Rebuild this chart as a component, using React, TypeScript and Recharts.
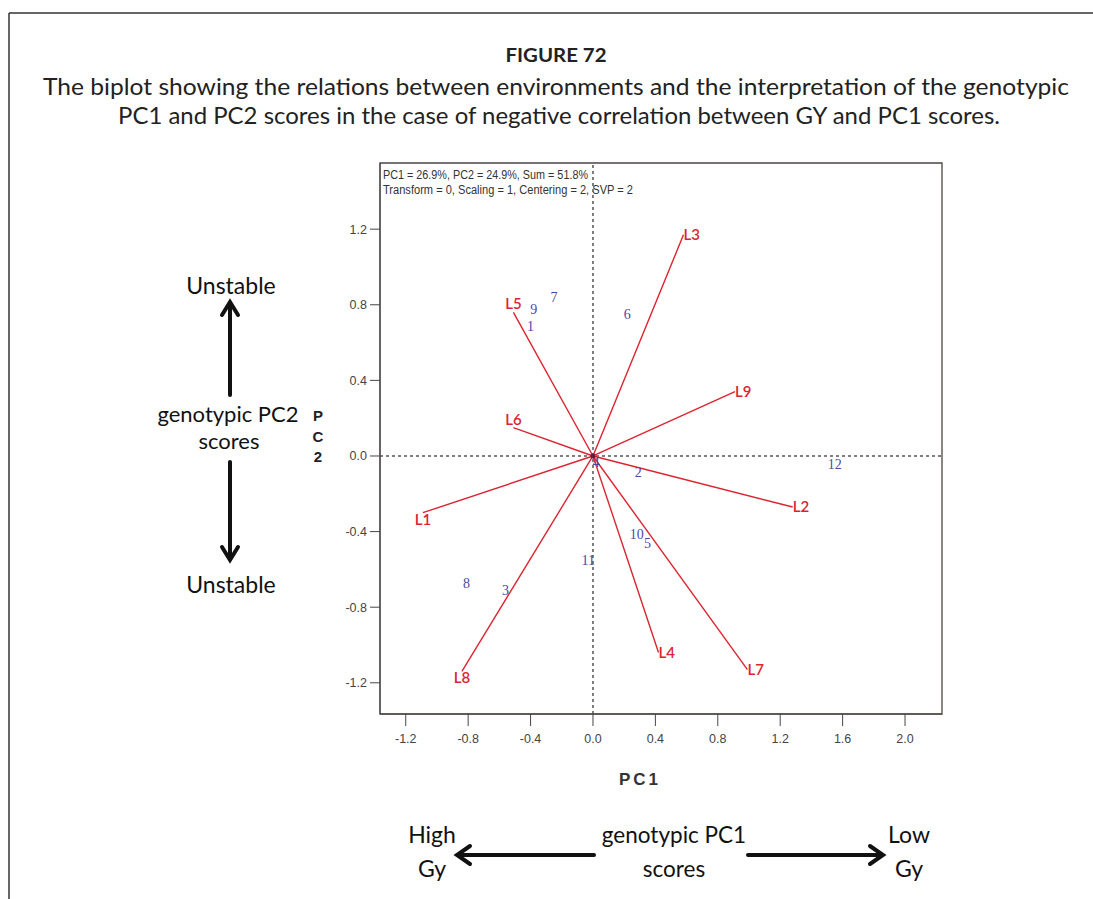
import React from 'react';
import {
  ScatterChart,
  Scatter,
  XAxis,
  YAxis,
  ReferenceLine,
  ReferenceArea,
  ReferenceDot,
} from 'recharts';

// Environment vectors (red)
const envNames = ['L1', 'L2', 'L3', 'L4', 'L5', 'L6', 'L7', 'L8', 'L9'];
const envPC1 = [-1.09, 1.28, 0.58, 0.42, -0.51, -0.51, 0.99, -0.84, 0.91];
const envPC2 = [-0.3, -0.27, 1.17, -1.04, 0.76, 0.15, -1.13, -1.14, 0.34];

// Genotype scores (blue)
const genoNames = ['1', '2', '3', '4', '5', '6', '7', '8', '9', '10', '11', '12'];
const genoPC1 = [-0.4, 0.29, -0.56, 0.02, 0.35, 0.22, -0.25, -0.81, -0.38, 0.28, -0.03, 1.55];
const genoPC2 = [0.69, -0.085, -0.71, -0.03, -0.46, 0.75, 0.84, -0.67, 0.78, -0.415, -0.55, -0.04];

const xTicks = [-1.2, -0.8, -0.4, 0.0, 0.4, 0.8, 1.2, 1.6, 2.0];
const yTicks = [-1.2, -0.8, -0.4, 0.0, 0.4, 0.8, 1.2];
const xDomain: [number, number] = [-1.365, 2.237];
const yDomain: [number, number] = [-1.365, 1.55];

const RED = '#dc2430';
const BLUE = '#4848a8';
const AXIS = '#4a4444';
const NARROW = '"Liberation Sans Narrow", "Liberation Sans", Arial, sans-serif';
const CAL = 'Lato, "Noto Sans", sans-serif';
const SERIF = '"Liberation Serif", "DejaVu Serif", serif';

const genoData = genoNames.map((name, i) => ({ x: genoPC1[i], y: genoPC2[i], name }));

const EnvLabel = (props: any) => {
  const { cx, cy, payload } = props;
  if (!payload || !payload.name) return <g />;
  const left = payload.x < 0;
  let anchor: 'start' | 'middle' = 'start';
  let dy = 5;
  if (left) {
    anchor = 'middle';
    dy = payload.y > 0 ? -3 : 12;
  }
  return (
    <text
      x={cx}
      y={cy + dy}
      textAnchor={anchor}
      fill={RED}
      fontSize={15}
      fontWeight={600}
      fontFamily={CAL}
    >
      {payload.name}
    </text>
  );
};

const GenoLabel = (props: any) => {
  const { cx, cy, payload } = props;
  return (
    <text
      x={cx}
      y={cy + 5}
      textAnchor="middle"
      fill={BLUE}
      fontSize={14}
      fontFamily={SERIF}
    >
      {payload.name}
    </text>
  );
};

function UpArrow({ x, y1, y2 }: { x: number; y1: number; y2: number }) {
  return (
    <g stroke="#111" strokeWidth={4} fill="none" strokeLinecap="round" strokeLinejoin="miter">
      <line x1={x} y1={y2} x2={x} y2={y1 + 2} />
      <polyline points={`${x - 8},${y1 + 13} ${x},${y1} ${x + 8},${y1 + 13}`} />
    </g>
  );
}
function DownArrow({ x, y1, y2 }: { x: number; y1: number; y2: number }) {
  return (
    <g stroke="#111" strokeWidth={4} fill="none" strokeLinecap="round">
      <line x1={x} y1={y1} x2={x} y2={y2 - 2} />
      <polyline points={`${x - 8},${y2 - 13} ${x},${y2} ${x + 8},${y2 - 13}`} />
    </g>
  );
}
function LeftArrow({ y, x1, x2 }: { y: number; x1: number; x2: number }) {
  return (
    <g stroke="#111" strokeWidth={4} fill="none" strokeLinecap="round">
      <line x1={x2} y1={y} x2={x1 + 2} y2={y} />
      <polyline points={`${x1 + 13},${y - 9} ${x1},${y} ${x1 + 13},${y + 9}`} />
    </g>
  );
}
function RightArrow({ y, x1, x2 }: { y: number; x1: number; x2: number }) {
  return (
    <g stroke="#111" strokeWidth={4} fill="none" strokeLinecap="round">
      <line x1={x1} y1={y} x2={x2 - 2} y2={y} />
      <polyline points={`${x2 - 13},${y - 9} ${x2},${y} ${x2 - 13},${y + 9}`} />
    </g>
  );
}

export default function App() {
  return (
    <div
      style={{
        position: 'absolute',
        left: 0,
        top: 0,
        width: 1093,
        height: 899,
        background: '#fff',
        overflow: 'hidden',
      }}
    >
      <svg width={1093} height={899} style={{ position: 'absolute', left: 0, top: 0 }}>
        {/* page border */}
        <line x1={9} y1={13} x2={1093} y2={13} stroke="#333" strokeWidth={1.5} />
        <line x1={9} y1={13} x2={9} y2={899} stroke="#333" strokeWidth={1.5} />

        {/* title */}
        <text x={556} y={62} textAnchor="middle" fontFamily={CAL} fontWeight={700} fontSize={19} fill="#222" textLength={101} lengthAdjust="spacingAndGlyphs">
          FIGURE 72
        </text>
        <text x={556} y={95} textAnchor="middle" fontFamily={CAL} fontSize={23} fill="#222" textLength={1026} lengthAdjust="spacingAndGlyphs">
          The biplot showing the relations between environments and the interpretation of the genotypic
        </text>
        <text x={559} y={124} textAnchor="middle" fontFamily={CAL} fontSize={23} fill="#222" textLength={882} lengthAdjust="spacingAndGlyphs">
          PC1 and PC2 scores in the case of negative correlation between GY and PC1 scores.
        </text>

        {/* left annotations */}
        <text x={231} y={294} textAnchor="middle" fontFamily={CAL} fontSize={23} fill="#111">
          Unstable
        </text>
        <UpArrow x={230} y1={302} y2={395} />
        <text x={228} y={422} textAnchor="middle" fontFamily={CAL} fontSize={22} fill="#111">
          genotypic PC2
        </text>
        <text x={229} y={449} textAnchor="middle" fontFamily={CAL} fontSize={22} fill="#111">
          scores
        </text>
        <DownArrow x={230} y1={462} y2={560} />
        <text x={231} y={593} textAnchor="middle" fontFamily={CAL} fontSize={23} fill="#111">
          Unstable
        </text>

        {/* y-axis title stacked */}
        <text x={318} y={421} textAnchor="middle" fontFamily="Arial, 'Liberation Sans', sans-serif" fontWeight={700} fontSize={15} fill="#222">
          P
        </text>
        <text x={318} y={442} textAnchor="middle" fontFamily="Arial, 'Liberation Sans', sans-serif" fontWeight={700} fontSize={15} fill="#222">
          C
        </text>
        <text x={318} y={462} textAnchor="middle" fontFamily="Arial, 'Liberation Sans', sans-serif" fontWeight={700} fontSize={15} fill="#222">
          2
        </text>

        {/* x-axis title */}
        <text x={640} y={785} textAnchor="middle" fontFamily="Arial, 'Liberation Sans', sans-serif" fontWeight={700} fontSize={17} letterSpacing={3} fill="#333">
          PC1
        </text>

        {/* bottom annotations */}
        <text x={432} y={843} textAnchor="middle" fontFamily={CAL} fontSize={23} fill="#111">
          High
        </text>
        <text x={432} y={877} textAnchor="middle" fontFamily={CAL} fontSize={23} fill="#111">
          Gy
        </text>
        <LeftArrow y={855} x1={457} x2={594} />
        <text x={674} y={843} textAnchor="middle" fontFamily={CAL} fontSize={22.5} fill="#111">
          genotypic PC1
        </text>
        <text x={674} y={877} textAnchor="middle" fontFamily={CAL} fontSize={22.5} fill="#111">
          scores
        </text>
        <RightArrow y={855} x1={748} x2={883} />
        <text x={909} y={843} textAnchor="middle" fontFamily={CAL} fontSize={23} fill="#111">
          Low
        </text>
        <text x={909} y={877} textAnchor="middle" fontFamily={CAL} fontSize={23} fill="#111">
          Gy
        </text>
      </svg>

      <div style={{ position: 'absolute', left: 300, top: 150 }}>
        <ScatterChart
          width={660}
          height={640}
          margin={{ top: 13, right: 18, bottom: 16, left: 20 }}
          style={{ fontFamily: NARROW }}
        >
          <XAxis
            type="number"
            dataKey="x"
            domain={xDomain}
            allowDataOverflow
            ticks={xTicks}
            tickFormatter={(v: number) => v.toFixed(1)}
            interval={0}
            height={60}
            tickSize={12}
            tickMargin={8}
            stroke={AXIS}
            tick={{ fill: '#444', fontSize: 12.5, fontFamily: NARROW }}
          />
          <YAxis
            type="number"
            dataKey="y"
            domain={yDomain}
            allowDataOverflow
            ticks={yTicks}
            tickFormatter={(v: number) => v.toFixed(1)}
            interval={0}
            width={60}
            tickSize={10}
            tickMargin={3}
            stroke={AXIS}
            tick={{ fill: '#444', fontSize: 12.5, fontFamily: NARROW }}
          />
          <ReferenceArea
            x1={xDomain[0]}
            x2={xDomain[1]}
            y1={yDomain[0]}
            y2={yDomain[1]}
            fill="none"
            stroke={AXIS}
            strokeWidth={1.3}
            fillOpacity={0}
          />
          <ReferenceLine x={0} stroke="#555" strokeWidth={1.5} strokeDasharray="3 3" />
          <ReferenceLine y={0} stroke="#555" strokeWidth={1.5} strokeDasharray="3 3" />
          {envNames.map((name, i) => (
            <Scatter
              key={name}
              data={[
                { x: 0, y: 0, name: '' },
                { x: envPC1[i], y: envPC2[i], name },
              ]}
              line={{ stroke: RED, strokeWidth: 1.4 }}
              lineType="joint"
              shape={EnvLabel}
              isAnimationActive={false}
            />
          ))}
          <Scatter data={genoData} shape={GenoLabel} isAnimationActive={false} />
          <ReferenceDot x={0} y={0} r={2.5} fill="#6a1a40" stroke="none" />
        </ScatterChart>
      </div>

      <svg width={300} height={40} style={{ position: 'absolute', left: 380, top: 163, pointerEvents: 'none' }}>
        <text x={3} y={16} fontFamily={NARROW} fontSize={12} fill="#333" textLength={205} lengthAdjust="spacingAndGlyphs">
          PC1 = 26.9%, PC2 = 24.9%, Sum = 51.8%
        </text>
        <text x={3} y={31} fontFamily={NARROW} fontSize={12} fill="#333" textLength={250} lengthAdjust="spacingAndGlyphs">
          Transform = 0, Scaling = 1, Centering = 2, SVP = 2
        </text>
      </svg>
    </div>
  );
}
